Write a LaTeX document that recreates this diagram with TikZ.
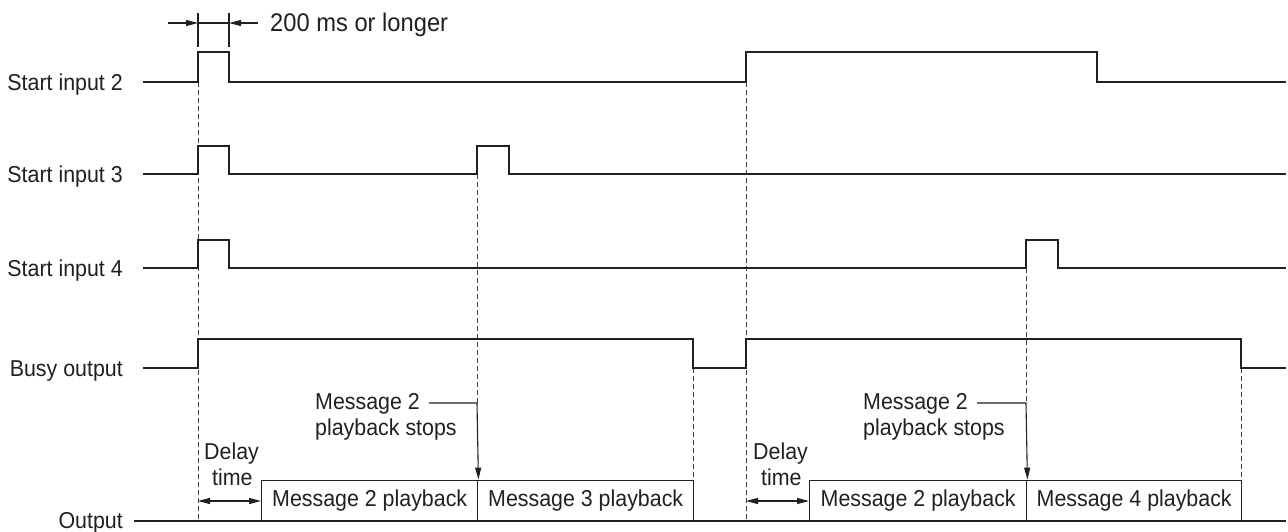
\documentclass[tikz,border=0pt]{standalone}
\usepackage{fontspec}
\setmainfont{Liberation Sans}[FakeStretch=0.93]
\usetikzlibrary{arrows.meta}
\definecolor{ink}{RGB}{35,31,32}
\begin{document}
\begin{tikzpicture}[x=1pt,y=-1pt,
  sig/.style={draw=ink,line width=2pt,line join=miter},
  guide/.style={draw=ink!85,line width=0.9pt,dash pattern=on 5pt off 3pt},
  thin/.style={draw=ink,line width=1.1pt},
  lbl/.style={font=\fontsize{23}{26}\selectfont,text=ink,inner sep=0pt},
  msgbox/.style={draw=ink,line width=1.4pt,minimum height=40pt,inner sep=0pt,
    font=\fontsize{23}{26}\selectfont,text=ink,anchor=south west},
  tip/.style={-{Triangle[length=12pt,width=6pt]}},
  dtip/.style={{Triangle[length=12pt,width=6pt]}-{Triangle[length=12pt,width=6pt]}},
]
\useasboundingbox (0,0) rectangle (1288,531);

% labels
\node[lbl,anchor=base east] (l2) at (123,90) {Start input 2};
\node[lbl,anchor=base east] (l3) at (123,182) {Start input 3};
\node[lbl,anchor=base east] (l4) at (123,276) {Start input 4};
\node[lbl,anchor=base east] (lb) at (123,376) {Busy output};
\node[lbl,anchor=base east] (lo) at (123,528) {Output};

% guides (dashed)
\draw[guide] (198,82) -- (198,519);
\draw[guide] (477,174) -- (477,403);
\draw[guide] (693,368) -- (693,481);
\draw[guide] (746,82) -- (746,519);
\draw[guide] (1026,268) -- (1026,403);
\draw[guide] (1241,368) -- (1241,481);

% waveforms
\draw[sig] (143,82) -- (198,82) -- (198,52) -- (229,52) -- (229,82) -- (746,82) -- (746,52) -- (1097,52) -- (1097,82) -- (1286,82);
\draw[sig] (143,174) -- (198,174) -- (198,146) -- (229,146) -- (229,174) -- (477,174) -- (477,146) -- (509,146) -- (509,174) -- (1286,174);
\draw[sig] (143,268) -- (198,268) -- (198,240) -- (229,240) -- (229,268) -- (1026,268) -- (1026,240) -- (1058,240) -- (1058,268) -- (1286,268);
\draw[sig] (143,368) -- (198,368) -- (198,339) -- (693,339) -- (693,368) -- (746,368) -- (746,339) -- (1241,339) -- (1241,368) -- (1286,368);
\draw[sig] (134,521) -- (1286,521);

% 200 ms dimension
\coordinate (e1t) at (198,13); \coordinate (e1b) at (198,47);
\coordinate (e2t) at (229,13); \coordinate (e2b) at (229,47);
\draw[thin] (e1t) -- (e1b);
\draw[thin] (e2t) -- (e2b);
\coordinate (d1) at (168,23); \coordinate (d1e) at (198,23);
\coordinate (d2) at (258,23); \coordinate (d2e) at (229,23);
\draw[thin,tip] (d1) -- (d1e);
\draw[thin,tip] (d2) -- (d2e);
\draw[thin] (d1e) -- (d2e);
\node[lbl,anchor=base west,font=\fontsize{25.5}{28}\selectfont] (dimt) at (270,31) {200 ms or longer};

% message boxes
\node[msgbox,minimum width=216pt] (b1) at (261,521) {Message 2 playback};
\node[msgbox,minimum width=216pt] (b2) at (477,521) {Message 3 playback};
\node[msgbox,minimum width=217pt] (b3) at (809,521) {Message 2 playback};
\node[msgbox,minimum width=215pt] (b4) at (1026,521) {Message 4 playback};

% delay time
\node[lbl,anchor=base west] (dl1) at (204,459) {Delay};
\node[lbl,anchor=base west] (tm1) at (212,485) {time};
\node[lbl,anchor=base west] (dl2) at (753,459) {Delay};
\node[lbl,anchor=base west] (tm2) at (761,485) {time};
\coordinate (da1) at (198,501);
\coordinate (da2) at (746,501);
\draw[thin,dtip] (da1) -- (da1 -| b1.west);
\draw[thin,dtip] (da2) -- (da2 -| b3.west);

% annotations
\node[lbl,anchor=base west] (a1) at (315,409) {Message 2};
\node[lbl,anchor=base west] (a1b) at (315,435) {playback stops};
\node[lbl,anchor=base west] (a2) at (863,409) {Message 2};
\node[lbl,anchor=base west] (a2b) at (863,435) {playback stops};
\coordinate (k1) at (429,403); \coordinate (c1) at (477,403);
\coordinate (k2) at (977,403); \coordinate (c2) at (1026,403);
\draw[thin,tip] (k1) -- (c1) -- (b1.north east);
\draw[thin,tip] (k2) -- (c2) -- (b3.north east);
\end{tikzpicture}
\end{document}
